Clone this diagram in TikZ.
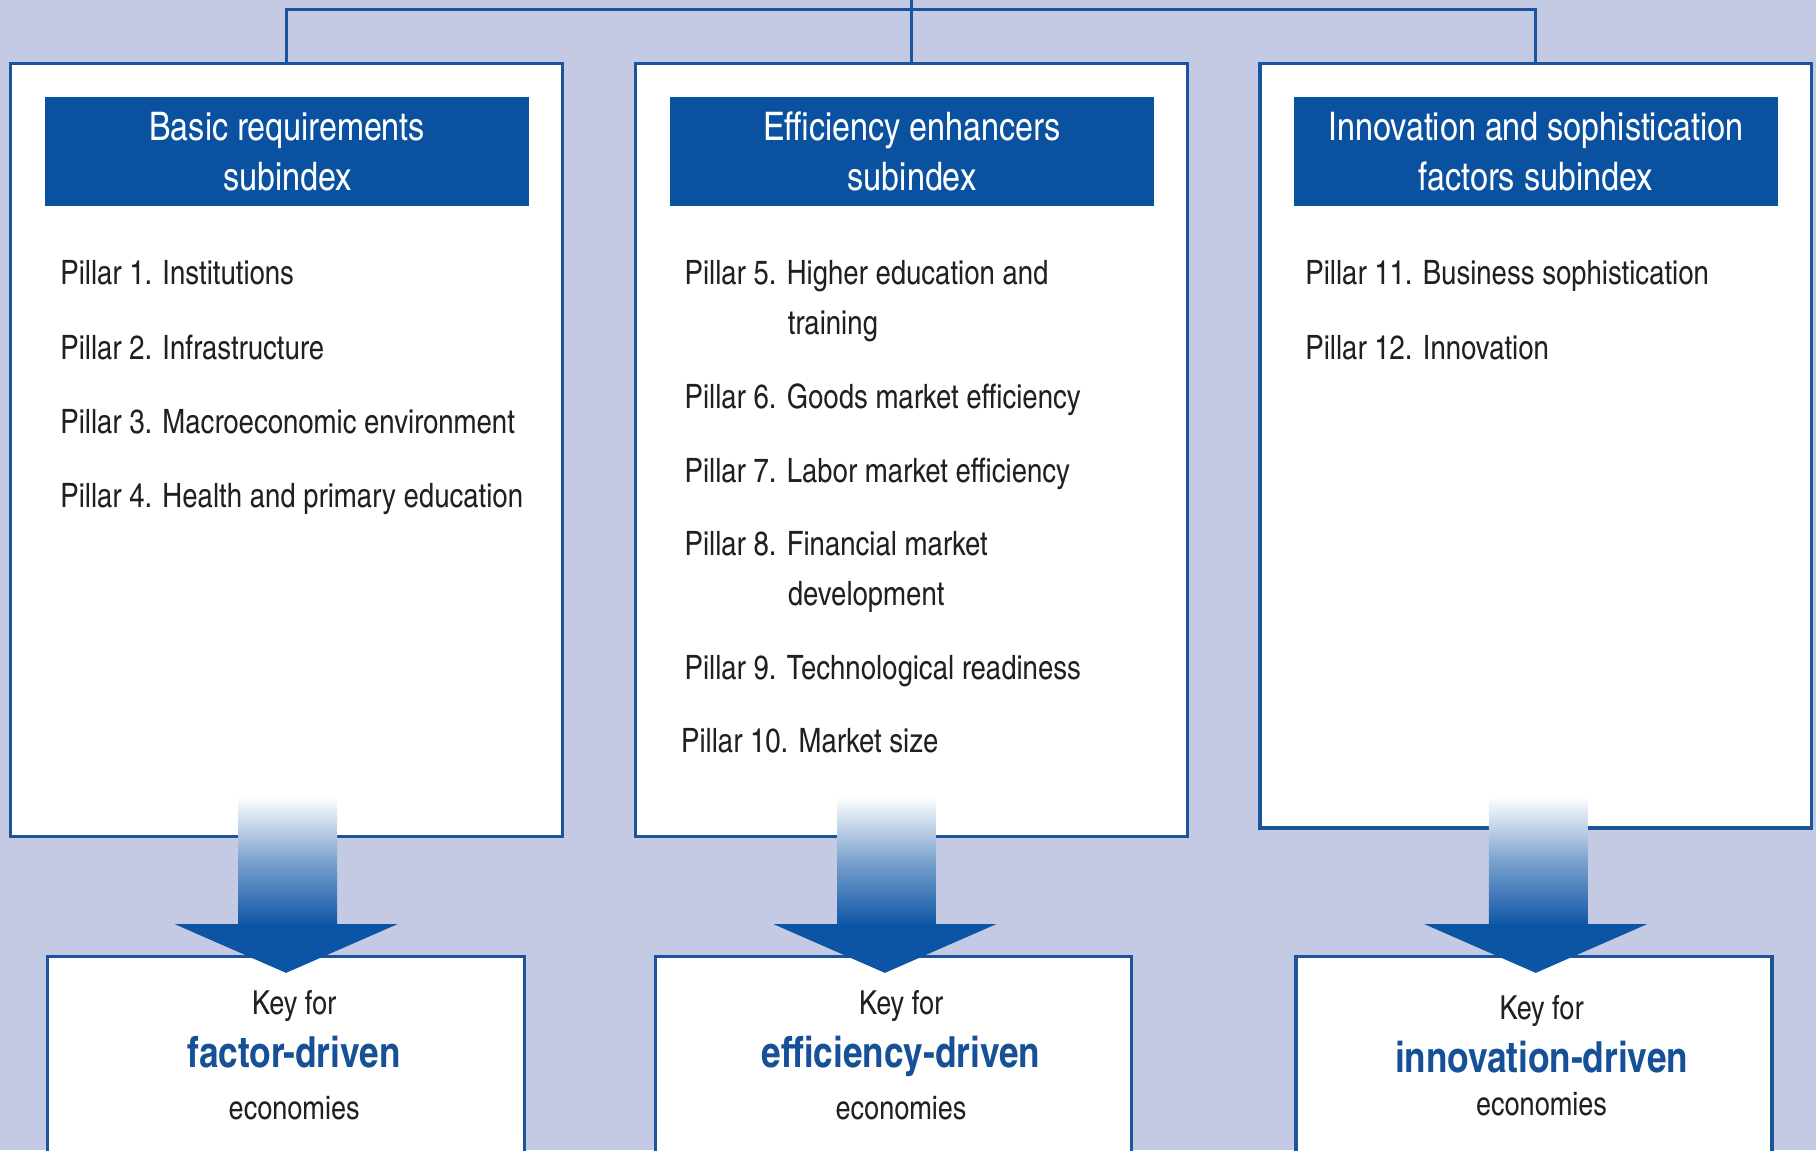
\documentclass[tikz,border=0pt]{standalone}
\usepackage{fontspec}
\setmainfont{texgyreheroscn}[Extension=.otf, UprightFont=*-regular, BoldFont=*-bold, ItalicFont=*-italic, BoldItalicFont=*-bolditalic]
\definecolor{bgcol}{RGB}{196,202,228}
\definecolor{hdrblue}{RGB}{10,82,160}
\definecolor{edgeblue}{RGB}{28,84,155}
\definecolor{arrblue}{RGB}{12,84,164}
\definecolor{keyblue}{RGB}{22,80,150}
\definecolor{txt}{RGB}{35,31,32}
\tikzset{
  bigbox/.style={draw=edgeblue, line width=2.8pt, fill=white, anchor=north west, inner sep=0pt, outer sep=0pt},
  hdrbox/.style={fill=hdrblue, text=white, align=center, minimum width=418pt, minimum height=94pt, inner sep=0pt, font=\fontsize{34}{43}\selectfont},
  pillartxt/.style={anchor=base west, inner sep=0pt, text=txt, font=\fontsize{29}{35}\selectfont},
  keytxt/.style={anchor=base, inner sep=0pt, text=txt, font=\fontsize{28.5}{34}\selectfont},
  keybold/.style={anchor=base, inner sep=0pt, text=keyblue, font=\fontsize{37}{44}\selectfont\bfseries},
  conn/.style={draw=edgeblue, line width=2.8pt},
  shaftshade/.style={top color=white, bottom color=arrblue, middle color=arrblue!55!white},
}
\newcommand\fatarrow[2]{% #1 shaft centre x, #2 head centre x
  \shade[shaftshade] (#1-42.5,-688) rectangle (#1+42.5,-800);
  \fill[arrblue] (#2-96,-798) -- (#2+96,-798) -- (#2,-840) -- cycle;
}
\begin{document}
\begin{tikzpicture}[x=1pt,y=1pt]
\useasboundingbox (0,0) rectangle (1568,-993);
\fill[bgcol] (0,0) rectangle (1568,-993);

% connector
\coordinate (top) at (787,0);
\coordinate (hl) at (787,-8);

% main boxes
\node[bigbox, minimum width=477pt, minimum height=667pt] (b1) at (9,-55) {};
\node[bigbox, minimum width=476pt, minimum height=667pt] (b2) at (549,-55) {};
\node[bigbox, minimum width=476pt, minimum height=660pt] (b3) at (1088,-55) {};

\draw[conn] (b1.north) |- (hl) -| (b3.north);
\draw[conn] (b2.north) -- (top);

% headers
\node[hdrbox] (h1) at (248,-131) {Basic requirements\\subindex};
\node[hdrbox] (h2) at (787.5,-131) {Efficiency enhancers\\subindex};
\node[hdrbox] (h3) at (1326,-131) {Innovation and sophistication\\factors subindex};

% pillars left
\node[pillartxt] (p1) at (52,-246) {Pillar 1. Institutions};
\node[pillartxt] (p2) at (52,-310) {Pillar 2. Infrastructure};
\node[pillartxt] (p3) at (52,-374) {Pillar 3. Macroeconomic environment};
\node[pillartxt] (p4) at (52,-438) {Pillar 4. Health and primary education};
% pillars middle
\node[pillartxt] (p5) at (591,-246) {Pillar 5. Higher education and};
\node[pillartxt] (p5b) at (680,-289) {training};
\node[pillartxt] (p6) at (591,-353) {Pillar 6. Goods market efficiency};
\node[pillartxt] (p7) at (591,-417) {Pillar 7. Labor market efficiency};
\node[pillartxt] (p8) at (591,-480) {Pillar 8. Financial market};
\node[pillartxt] (p8b) at (680,-523) {development};
\node[pillartxt] (p9) at (591,-587) {Pillar 9. Technological readiness};
\node[pillartxt] (p10) at (588,-650) {Pillar 10. Market size};
% pillars right
\node[pillartxt] (p11) at (1127,-246) {Pillar 11. Business sophistication};
\node[pillartxt] (p12) at (1127,-310) {Pillar 12. Innovation};

% bottom boxes
\node[bigbox, minimum width=412pt, minimum height=220pt] (k1) at (41,-826) {};
\node[bigbox, minimum width=411pt, minimum height=220pt] (k2) at (566,-826) {};
\node[bigbox, minimum width=411pt, minimum height=220pt] (k3) at (1119,-826) {};

\node[keytxt] (k1a) at (254,-876) {Key for};
\node[keybold] (k1b) at (254,-922) {factor-driven};
\node[keytxt] (k1c) at (254,-967) {economies};
\node[keytxt] (k2a) at (778,-876) {Key for};
\node[keybold] (k2b) at (778,-922) {efficiency-driven};
\node[keytxt] (k2c) at (778,-967) {economies};
\node[keytxt] (k3a) at (1331,-880) {Key for};
\node[keybold] (k3b) at (1331,-926) {innovation-driven};
\node[keytxt] (k3c) at (1331,-963) {economies};

% arrows
\fatarrow{248.5}{247}
\fatarrow{765.5}{764}
\fatarrow{1328}{1326}
\end{tikzpicture}
\end{document}
